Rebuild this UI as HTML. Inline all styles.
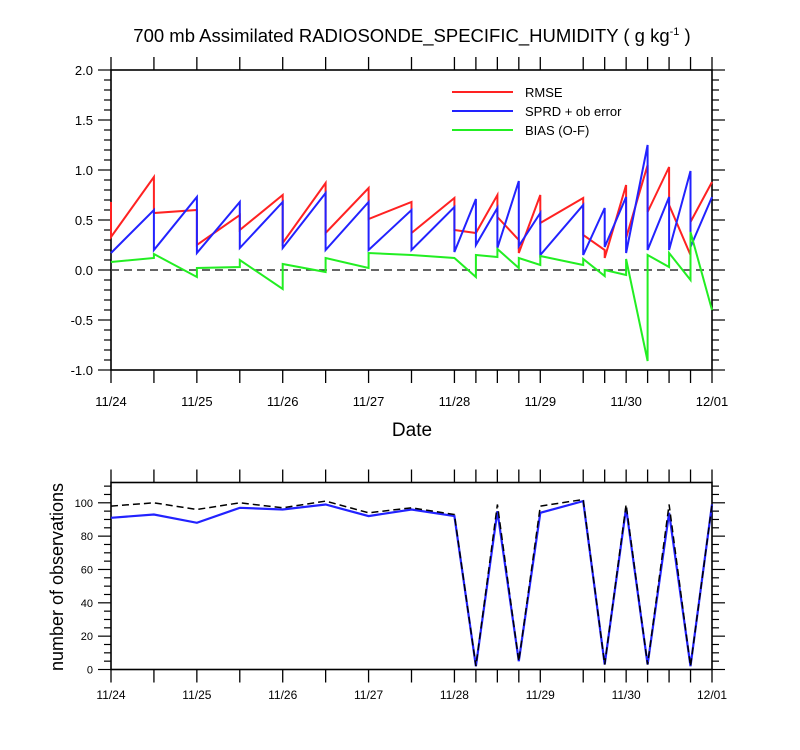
<!DOCTYPE html>
<html><head><meta charset="utf-8"><style>
body{margin:0;background:#fff}
svg{display:block;font-family:"Liberation Sans",sans-serif}
</style></head><body>
<svg id="c" width="800" height="750" viewBox="0 0 800 750">
<text x="412" y="42" text-anchor="middle" font-size="18.5">700 mb Assimilated RADIOSONDE_SPECIFIC_HUMIDITY ( g kg<tspan dy="-7" font-size="11">-1</tspan><tspan dy="7"> )</tspan></text>
<text x="412" y="436" text-anchor="middle" font-size="19">Date</text>
<text transform="translate(63,577) rotate(-90)" text-anchor="middle" font-size="18">number of observations</text>
<g id="gtop"></g><g id="gbot"></g>
<g>
<line x1="452" y1="92" x2="513" y2="92" stroke="#f22" stroke-width="2"/><text x="525" y="97" font-size="13">RMSE</text>
<line x1="452" y1="111" x2="513" y2="111" stroke="#22f" stroke-width="2"/><text x="525" y="116" font-size="13">SPRD + ob error</text>
<line x1="452" y1="130" x2="513" y2="130" stroke="#2e2" stroke-width="2"/><text x="525" y="135" font-size="13">BIAS (O-F)</text>
</g>
</svg>
<script>
// time in days since 11/24 00Z
const rmseT=[0,0,0.5,0.5,1,1,1.5,1.5,2,2,2.5,2.5,3,3,3.5,3.5,4,4,4.25,4.5,4.5,4.75,4.75,5,5,5.5,5.5,5.75,5.75,6,6,6.25,6.25,6.5,6.5,6.75,6.75,7];
const rmseV=[0.68,0.33,0.93,0.57,0.60,0.25,0.55,0.40,0.75,0.27,0.87,0.37,0.82,0.51,0.68,0.37,0.72,0.40,0.37,0.75,0.53,0.30,0.17,0.75,0.47,0.72,0.35,0.20,0.12,0.85,0.32,1.05,0.58,1.03,0.65,0.15,0.48,0.88];
const sprdT=[0,0.5,0.5,1,1,1.5,1.5,2,2,2.5,2.5,3,3,3.5,3.5,4,4,4.25,4.25,4.5,4.5,4.75,4.75,5,5,5.5,5.5,5.75,5.75,6,6,6.25,6.25,6.5,6.5,6.75,6.75,7];
const sprdV=[0.17,0.60,0.20,0.73,0.17,0.68,0.22,0.68,0.22,0.77,0.20,0.68,0.20,0.60,0.20,0.63,0.18,0.71,0.25,0.62,0.22,0.89,0.24,0.57,0.15,0.65,0.15,0.62,0.23,0.73,0.17,1.25,0.20,0.73,0.20,0.99,0.23,0.73];
const biasT=[0,0.5,0.5,1,1,1.5,1.5,2,2,2.5,2.5,3,3,3.5,4,4.25,4.25,4.5,4.5,4.75,4.75,5,5,5.5,5.5,5.75,5.75,6,6,6.25,6.25,6.5,6.5,6.75,6.75,7];
const biasV=[0.08,0.12,0.16,-0.07,0.02,0.03,0.10,-0.19,0.06,-0.02,0.12,0.02,0.17,0.15,0.12,-0.07,0.15,0.13,0.21,0.02,0.12,0.05,0.14,0.05,0.11,-0.06,0.00,-0.05,0.11,-0.91,0.15,0.03,0.17,-0.10,0.38,-0.40];
const obsT=[0,0.5,1,1.5,2,2.5,3,3.5,4,4.25,4.5,4.75,5,5.5,5.75,6,6.25,6.5,6.75,7];
const usedV=[91,93,88,97,96,99,92,96,92,2,95,5,94,101,3,97,3,94,2,99];
const possV=[98,100,96,100,97,101,94,97,93,2,99,5,98,102,3,99,3,99,2,99];
const dayLabels=["11/24","11/25","11/26","11/27","11/28","11/29","11/30","12/01"];
const topTicks=[2.0,1.5,1.0,0.5,0.0,-0.5,-1.0];
const topTickLabels=["2.0","1.5","1.0","0.5","0.0","-0.5","-1.0"];
const botTicks=[0,20,40,60,80,100];

const NS="http://www.w3.org/2000/svg";
const X0=111,X1=712;
const xs=d=>X0+(X1-X0)*d/7;
const yTop=v=>270-v*100;
const yBot=v=>669.5-v*1.667;
function mk(p,t,a){const e=document.createElementNS(NS,t);for(const k in a)e.setAttribute(k,a[k]);p.appendChild(e);return e;}
const gTop=document.getElementById('gtop'),gBot=document.getElementById('gbot');

function frame(g,y0,y1,lblY,fs){
  mk(g,'rect',{x:X0,y:y0,width:X1-X0,height:y1-y0,fill:'none',stroke:'#000','stroke-width':1.6});
  obsT.forEach(t=>{const x=xs(t);
    mk(g,'line',{x1:x,y1:y0,x2:x,y2:y0-13,stroke:'#000','stroke-width':1.3});
    mk(g,'line',{x1:x,y1:y1,x2:x,y2:y1+13,stroke:'#000','stroke-width':1.3});});
  dayLabels.forEach((l,i)=>{const t=mk(g,'text',{x:xs(i),y:lblY,'text-anchor':'middle','font-size':fs});t.textContent=l;
    
    });
}
frame(gTop,70,370,406,13);
frame(gBot,482.5,669.5,699,12);

for(let i=0;i<=30;i++){const v=-1+i*0.1;const y=yTop(v);const maj=i%5==0;
  const L=maj?13:7;
  mk(gTop,'line',{x1:X0,y1:y,x2:X0-L,y2:y,stroke:'#000','stroke-width':1.2});
  mk(gTop,'line',{x1:X1,y1:y,x2:X1+L,y2:y,stroke:'#000','stroke-width':1.2});}
topTicks.forEach((v,i)=>{const t=mk(gTop,'text',{x:93,y:yTop(v)+5,'text-anchor':'end','font-size':13});t.textContent=topTickLabels[i];
  
  });
for(let v=0;v<=110;v+=5){const y=yBot(v);const maj=v%20==0;const L=maj?13:7;
  mk(gBot,'line',{x1:X0,y1:y,x2:X0-L,y2:y,stroke:'#000','stroke-width':1.2});
  mk(gBot,'line',{x1:X1,y1:y,x2:X1+L,y2:y,stroke:'#000','stroke-width':1.2});}
botTicks.forEach(v=>{const t=mk(gBot,'text',{x:93,y:yBot(v)+4,'text-anchor':'end','font-size':11});t.textContent=v;
  
  });

mk(gTop,'line',{x1:X0,y1:yTop(0),x2:X1,y2:yTop(0),stroke:'#333','stroke-width':1.6,'stroke-dasharray':'8,5'});
function line(g,T,V,yf,col,w,dash,name){
  const pts=T.map((t,i)=>xs(t).toFixed(1)+','+yf(V[i]).toFixed(1)).join(' ');
  const p=mk(g,'polyline',{points:pts,fill:'none',stroke:col,'stroke-width':w,'stroke-linejoin':'miter'});
  if(dash)p.setAttribute('stroke-dasharray',dash);
  
  
}
line(gTop,rmseT,rmseV,yTop,'#f22',2,null,'rmse-line');
line(gTop,sprdT,sprdV,yTop,'#22f',2,null,'sprd-line');
line(gTop,biasT,biasV,yTop,'#2e2',2,null,'bias-line');
line(gBot,obsT,usedV,yBot,'#22f',2.2,null,'used-obs-line');
line(gBot,obsT,possV,yBot,'#000',1.5,'7,4','possible-obs-line');
</script>
</body></html>
